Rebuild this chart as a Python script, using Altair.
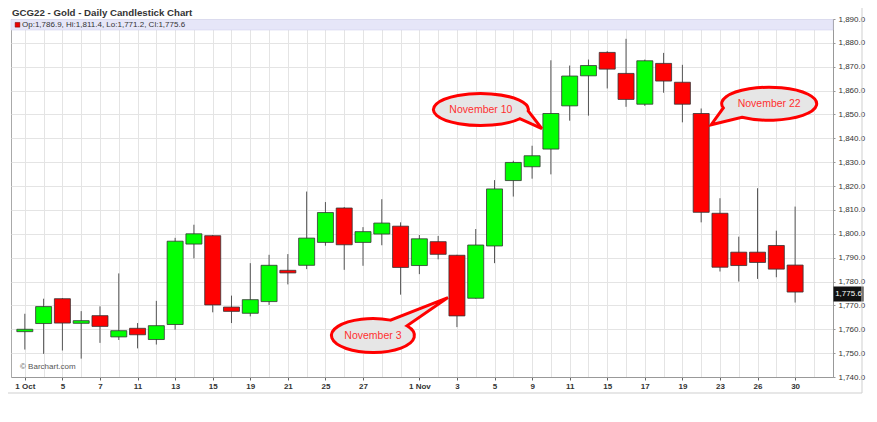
import json
import math
import altair as alt
import pandas as pd

# ---------------- data ----------------
dates = ["2021-10-01", "2021-10-04", "2021-10-05", "2021-10-06", "2021-10-07", "2021-10-08",
         "2021-10-11", "2021-10-12", "2021-10-13", "2021-10-14", "2021-10-15", "2021-10-18",
         "2021-10-19", "2021-10-20", "2021-10-21", "2021-10-22", "2021-10-25", "2021-10-26",
         "2021-10-27", "2021-10-28", "2021-10-29", "2021-11-01", "2021-11-02", "2021-11-03",
         "2021-11-04", "2021-11-05", "2021-11-08", "2021-11-09", "2021-11-10", "2021-11-11",
         "2021-11-12", "2021-11-15", "2021-11-16", "2021-11-17", "2021-11-18", "2021-11-19",
         "2021-11-22", "2021-11-23", "2021-11-24", "2021-11-26", "2021-11-29", "2021-11-30"]
opens = [1759.0, 1762.4, 1772.8, 1762.5, 1765.7, 1756.8, 1760.4, 1755.7, 1762.0, 1795.7,
         1799.2, 1769.3, 1766.7, 1771.6, 1784.7, 1786.8, 1796.4, 1810.8, 1796.4, 1799.9,
         1803.2, 1786.7, 1796.7, 1791.0, 1773.0, 1794.9, 1822.3, 1828.1, 1835.5, 1853.6,
         1866.2, 1876.0, 1867.2, 1854.3, 1871.4, 1863.5, 1850.4, 1808.6, 1792.3, 1792.3,
         1795.1, 1786.9]
highs = [1766.5, 1772.8, 1773.0, 1767.6, 1769.6, 1783.4, 1762.6, 1771.9, 1798.3, 1803.8,
         1799.5, 1774.1, 1787.7, 1791.2, 1791.5, 1817.7, 1813.3, 1811.2, 1802.8, 1814.5,
         1804.8, 1799.5, 1799.1, 1791.2, 1802.0, 1822.5, 1830.6, 1836.9, 1872.7, 1870.5,
         1873.0, 1876.5, 1881.7, 1873.0, 1875.8, 1870.8, 1852.5, 1814.9, 1798.8, 1819.1,
         1801.3, 1811.4]
lows = [1751.5, 1749.7, 1751.1, 1747.7, 1754.3, 1755.5, 1752.0, 1753.6, 1759.8, 1789.7,
        1767.1, 1762.6, 1765.4, 1770.2, 1778.8, 1785.2, 1795.0, 1784.9, 1786.6, 1795.2,
        1774.5, 1783.1, 1789.3, 1760.9, 1772.8, 1787.7, 1815.6, 1823.1, 1824.9, 1847.4,
        1849.5, 1860.9, 1853.2, 1853.6, 1859.1, 1846.7, 1804.8, 1784.2, 1780.0, 1781.1,
        1781.8, 1771.2]
closes = [1760.0, 1769.5, 1762.6, 1763.6, 1761.2, 1759.4, 1757.7, 1761.5, 1796.9, 1800.0,
          1770.2, 1767.5, 1772.4, 1786.8, 1783.6, 1798.2, 1808.9, 1795.4, 1800.9, 1804.5,
          1785.9, 1797.9, 1791.4, 1765.6, 1795.3, 1818.8, 1829.9, 1832.7, 1850.4, 1866.1,
          1870.5, 1869.0, 1856.3, 1872.5, 1864.0, 1854.3, 1809.0, 1786.0, 1786.7, 1788.0,
          1785.2, 1775.6]

tick_dates = ["2021-10-01", "2021-10-05", "2021-10-07", "2021-10-11", "2021-10-13", "2021-10-15",
              "2021-10-19", "2021-10-21", "2021-10-25", "2021-10-27", "2021-11-01", "2021-11-03",
              "2021-11-05", "2021-11-09", "2021-11-11", "2021-11-15", "2021-11-17", "2021-11-19",
              "2021-11-23", "2021-11-26", "2021-11-30"]
tick_text = ["1 Oct", "5", "7", "11", "13", "15", "19", "21", "25", "27", "1 Nov", "3", "5",
             "9", "11", "15", "17", "19", "23", "26", "30"]

y_ticks = [1740, 1750, 1760, 1770, 1780, 1790, 1800, 1810, 1820, 1830, 1840, 1850, 1860, 1870, 1880, 1890]

ann_dates = ["2021-11-03", "2021-11-10", "2021-11-22"]
ann_prices = [1773.3, 1844.1, 1845.7]
ann_text = ["November 3", "November 10", "November 22"]

title_text = "GCG22 - Gold - Daily Candlestick Chart"
credit_text = "\u00a9 Barchart.com"

# ---------------- build ----------------
W, H = 822, 358
n = len(dates)
df = pd.DataFrame({"date": dates, "open": opens, "high": highs, "low": lows, "close": closes})
df["idx"] = list(range(n))

tick_arr = [""] * (n + 1)
for d, t in zip(tick_dates, tick_text):
    tick_arr[dates.index(d)] = t
arr_js = json.dumps(tick_arr)

FONT = "Liberation Sans"
GRID = "#e4e4e4"

x_scale = alt.Scale(domain=[-0.47, n - 1 + 1.75], nice=False, zero=False)
y_scale = alt.Scale(domain=[y_ticks[0], y_ticks[-1]], nice=False, zero=False)

x_axis = alt.Axis(values=list(range(n + 1)), labelExpr=arr_js + "[datum.value]",
                  grid=True, gridColor=GRID, tickSize=3,
                  tickColor={"condition": {"test": arr_js + "[datum.value] != ''", "value": "#666"},
                             "value": "transparent"},
                  domain=True, domainColor="#999", labelFont=FONT, labelFontSize=8,
                  labelFontWeight="bold", labelColor="#333", labelPadding=2, title=None,
                  labelOverlap=False, labelFlush=False, labelAngle=0)
y_axis = alt.Axis(orient="right", values=y_ticks, format=",.1f", grid=True, gridColor=GRID,
                  tickSize=2, tickColor="#999", domain=True, domainColor="#999",
                  labelFont=FONT, labelFontSize=8, labelColor="#333", labelPadding=3,
                  title=None, labelOverlap=False, labelFlush=False)

base = alt.Chart(df)
X = alt.X("idx:Q", scale=x_scale, axis=x_axis)

wicks = base.mark_rule(color="#555", strokeWidth=1).encode(
    x=X, y=alt.Y("low:Q", scale=y_scale, axis=y_axis), y2="high:Q")

bodies = base.mark_bar(size=16, stroke="#333", strokeWidth=0.8).encode(
    x=X, y=alt.Y("open:Q", scale=y_scale, axis=y_axis), y2="close:Q",
    color=alt.condition("datum.close >= datum.open", alt.value("#00ff00"), alt.value("#ff0000")))

one = pd.DataFrame({"k": [0]})

header_bar = alt.Chart(one).mark_rect(fill="#e6e6f8", stroke="#d4d4ee", strokeWidth=0.6).encode(
    x=alt.value(0), x2=alt.value(W), y=alt.value(0.5), y2=alt.value(11))
header_sq = alt.Chart(one).mark_point(shape="square", size=22, filled=True, fill="#ee0000",
                                      stroke="#660000", strokeWidth=0.5, opacity=1).encode(
    x=alt.value(6.5), y=alt.value(5.8))
ohlc = "Op:{:,.1f}, Hi:{:,.1f}, Lo:{:,.1f}, Cl:{:,.1f}".format(opens[-1], highs[-1], lows[-1], closes[-1])
header_txt = alt.Chart(one).mark_text(align="left", baseline="middle", font=FONT, fontSize=8,
                                      color="#333").encode(
    x=alt.value(11), y=alt.value(6), text=alt.value(ohlc))

title = alt.Chart(one).mark_text(align="left", baseline="alphabetic", font=FONT, fontSize=9.7,
                                 fontWeight="bold", color="#333").encode(
    x=alt.value(1), y=alt.value(-3.5), text=alt.value(title_text))

credit = alt.Chart(one).mark_text(align="left", baseline="middle", font=FONT, fontSize=8,
                                  color="#555").encode(
    x=alt.value(9), y=alt.value(H - 10), text=alt.value(credit_text))

# last-price label on the right axis
last = pd.DataFrame({"close": [closes[-1]]})
last_box = alt.Chart(last).mark_point(shape="M-14,-4.5H14V8.5H-14Z", size=4, filled=True,
                                      fill="#111", stroke="#111", opacity=1).encode(
    x=alt.value(W + 15.5), y=alt.Y("close:Q", scale=y_scale, axis=y_axis))
last_txt = alt.Chart(last).mark_text(align="center", baseline="middle", font=FONT, fontSize=8,
                                     color="white", dy=2).encode(
    x=alt.value(W + 15.5), y=alt.Y("close:Q", scale=y_scale, axis=y_axis),
    text=alt.Text("close:Q", format=",.1f"))


def bubble_path(tip, c, rx, ry, a1, a2, sweep):
    p1 = (c[0] + rx * math.cos(math.radians(a1)), c[1] - ry * math.sin(math.radians(a1)))
    p2 = (c[0] + rx * math.cos(math.radians(a2)), c[1] - ry * math.sin(math.radians(a2)))
    return ("M{:.2f},{:.2f} A{},{} 0 1,{} {:.2f},{:.2f} L{},{} Z"
            .format(p1[0], p1[1], rx, ry, sweep, p2[0], p2[1], tip[0], tip[1]))


# bubble styling (pixel offsets of tip and ellipse centre from the anchored candle)
bubble_style = [
    dict(tip=(-9, 0), c=(-84, 38), rx=41.5, ry=17, a1=65, a2=35, sweep=0),
    dict(tip=(-9, 0), c=(-70, -19), rx=47.5, ry=16, a1=-5, a2=-35, sweep=0),
    dict(tip=(10, 0), c=(68, -21), rx=47.5, ry=16.5, a1=195, a2=235, sweep=1),
]

ann_layers = []
for d, p, t, st in zip(ann_dates, ann_prices, ann_text, bubble_style):
    adf = pd.DataFrame({"idx": [dates.index(d)], "price": [p], "label": [t]})
    path = bubble_path(st["tip"], st["c"], st["rx"], st["ry"], st["a1"], st["a2"], st["sweep"])
    enc = dict(x=alt.X("idx:Q", scale=x_scale, axis=x_axis),
               y=alt.Y("price:Q", scale=y_scale, axis=y_axis))
    ann_layers.append(alt.Chart(adf).mark_point(shape=path, size=4, filled=True, fill="#e6e6e6",
                                                stroke="#ff0000", strokeWidth=3, opacity=1,
                                                strokeJoin="miter").encode(**enc))
    ann_layers.append(alt.Chart(adf).mark_text(align="center", baseline="middle", font=FONT,
                                               fontSize=10.5, color="#ff3030",
                                               dx=st["c"][0], dy=st["c"][1]).encode(
        text="label:N", **enc))

frame_v = alt.Chart(one).mark_rule(color="#cfcfcf").encode(
    x=alt.value(851), y=alt.value(-11), y2=alt.value(374))
frame_h = alt.Chart(one).mark_rule(color="#cfcfcf").encode(
    x=alt.value(-3), x2=alt.value(851), y=alt.value(374))

chart = alt.layer(
    wicks, bodies, header_bar, header_sq, header_txt, title, credit,
    last_box, last_txt, *ann_layers, frame_v, frame_h
).properties(
    width=W, height=H,
    autosize=alt.AutoSizeParams(type="none"),
    padding={"left": 3, "top": 11, "right": 36, "bottom": 25},
).configure_view(stroke="#aaa", strokeWidth=1)

chart.save("out.html", embed_options={"renderer": "svg", "actions": False})
